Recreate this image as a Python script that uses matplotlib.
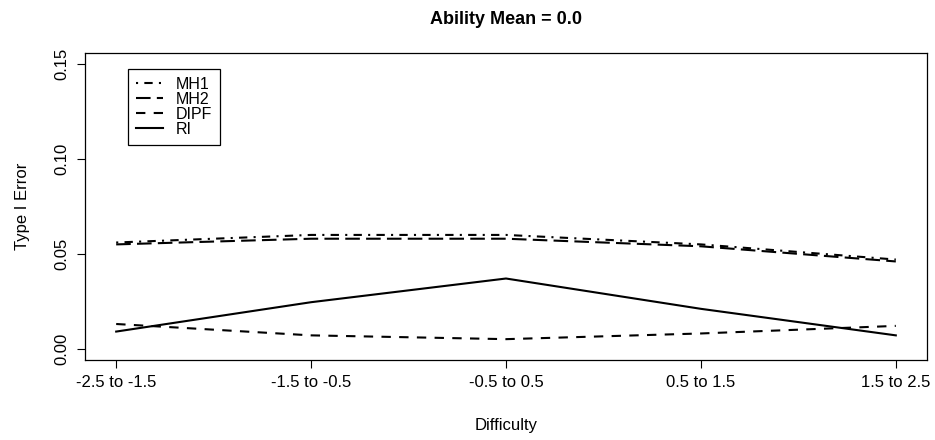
import matplotlib
matplotlib.use("Agg")
import matplotlib.pyplot as plt

# donnees
categories = ["-2.5 to -1.5", "-1.5 to -0.5", "-0.5 to 0.5", "0.5 to 1.5", "1.5 to 2.5"]
mh1 = [0.056, 0.060, 0.060, 0.055, 0.047]
mh2 = [0.055, 0.058, 0.058, 0.054, 0.046]
dipf = [0.013, 0.007, 0.005, 0.008, 0.012]
ri = [0.009, 0.0245, 0.037, 0.021, 0.007]
yticks = [0.00, 0.05, 0.10, 0.15]

plt.rcParams["font.family"] = ["Liberation Sans", "DejaVu Sans"]

fig = plt.figure(figsize=(9.35, 4.4), dpi=100)
ax = fig.add_axes([85 / 935, 1 - 360 / 440, 842 / 935, 307 / 440])

x = list(range(1, len(categories) + 1))
lw = 1.5
ax.plot(x, mh1, c="black", lw=lw, dashes=(1, 3, 4, 3), label="MH1")
ax.plot(x, mh2, c="black", lw=lw, dashes=(7, 3), label="MH2")
ax.plot(x, dipf, c="black", lw=lw, dashes=(4.5, 4), label="DIPF")
ax.plot(x, ri, c="black", lw=lw, label="RI")

ax.set_xlim(0.84, 5.16)
ax.set_ylim(-0.006, 0.156)
ax.set_xticks(x)
ax.set_xticklabels(categories)
ax.set_yticks(yticks)
ax.set_yticklabels([f"{v:.2f}" for v in yticks], rotation=90, va="center")
ax.tick_params(labelsize=12, length=6, width=0.8, pad=5)
for s in ax.spines.values():
    s.set_linewidth(0.9)

ax.set_xlabel("Difficulty", fontsize=12, labelpad=20)
ax.set_ylabel("Type I Error", fontsize=12, labelpad=18)
ax.set_title("Ability Mean = 0.0", fontsize=13, fontweight="bold", pad=21)

leg = ax.legend(loc="upper left", bbox_to_anchor=(0.051, 0.948), fontsize=11.5,
                frameon=True, fancybox=False, edgecolor="black", framealpha=1,
                handlelength=1.7, labelspacing=0.0, borderpad=0.5,
                handletextpad=0.8, borderaxespad=0)
leg.get_frame().set_linewidth(0.9)

fig.savefig("out.png", dpi=100)
